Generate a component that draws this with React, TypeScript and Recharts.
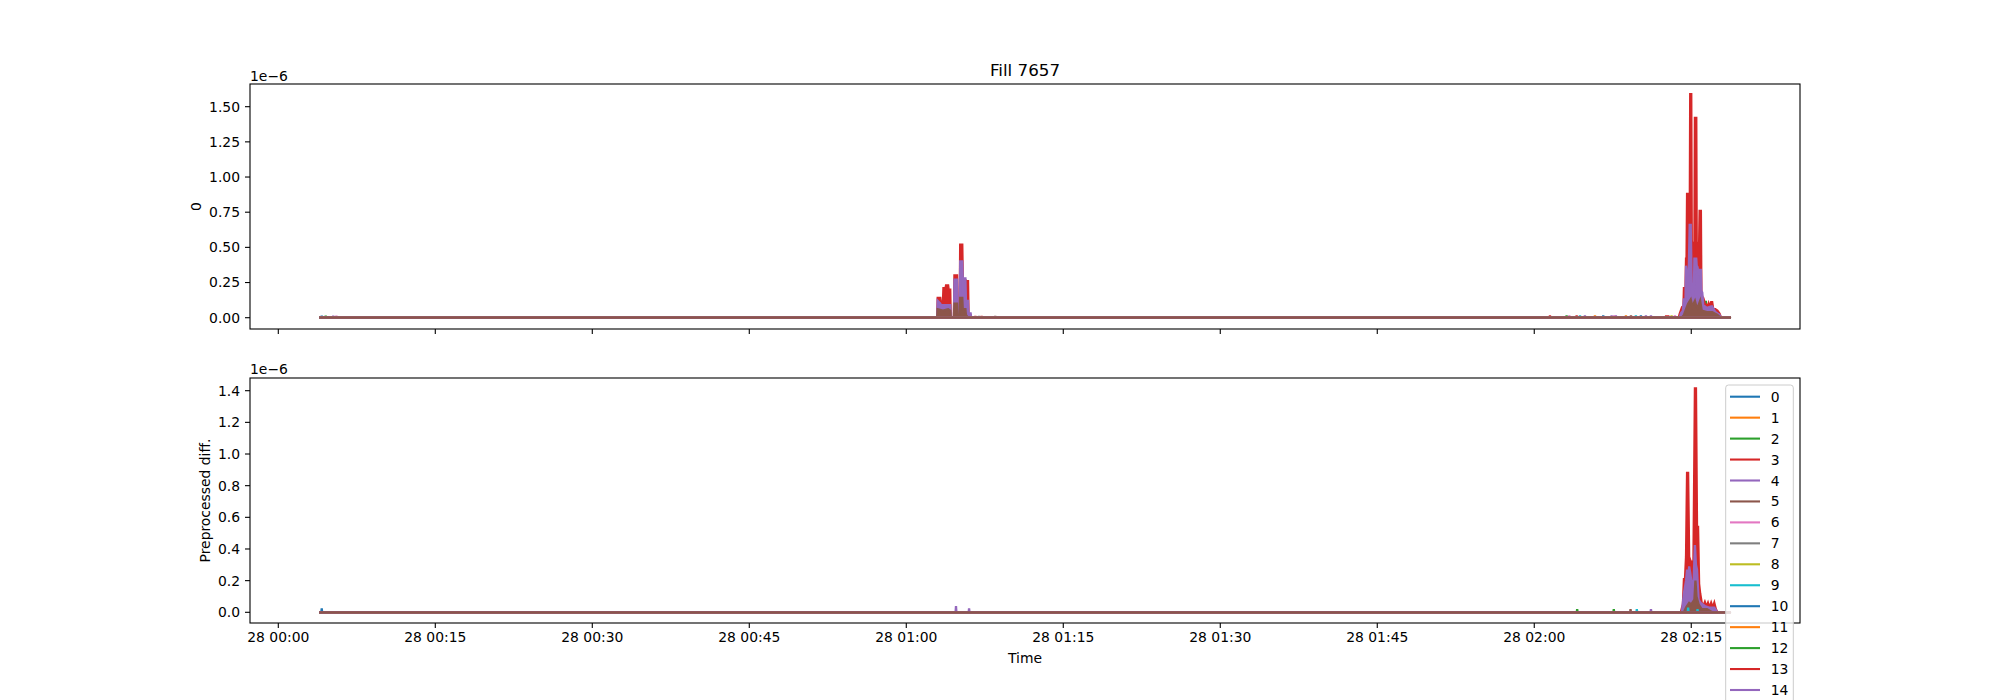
import { ComposedChart, Area, XAxis, YAxis } from "recharts";

// matplotlib tab10 cycle
const tab10 = [
  "#1f77b4", "#ff7f0e", "#2ca02c", "#d62728", "#9467bd",
  "#8c564b", "#e377c2", "#7f7f7f", "#bcbd22", "#17becf",
];
const seriesNames = ["0", "1", "2", "3", "4", "5", "6", "7", "8", "9", "10", "11", "12", "13", "14", "15"];
// the legend runs off the bottom of the figure; only these rows are visible
const legendVisibleRows = 15;

// time axis in minutes after 28 00:00
const xTicks = [0, 15, 30, 45, 60, 75, 90, 105, 120, 135];
const xTickLabels = [
  "28 00:00", "28 00:15", "28 00:30", "28 00:45", "28 01:00",
  "28 01:15", "28 01:30", "28 01:45", "28 02:00", "28 02:15",
];
const xDomain: [number, number] = [-2.704, 145.39];
const runStart = 3.92;
const runEnd = 138.8;

const topYTicks = [0, 0.25, 0.5, 0.75, 1.0, 1.25, 1.5];
const bottomYTicks = [0, 0.2, 0.4, 0.6, 0.8, 1.0, 1.2, 1.4];

// ---- top panel (values in 1e-6) ----
const topRedT = [
  62.95, 63.0, 63.25, 63.3, 63.5, 63.55, 63.75, 63.8, 64.0, 64.05, 64.2, 64.25, 64.55, 64.6, 64.85, 64.9,
  65.1, 65.15, 65.35, 65.4, 65.65, 65.7, 65.9, 65.95, 66.15, 66.2,
  133.8, 133.9, 134.1, 134.25, 134.3, 134.45, 134.5, 134.55, 134.6, 134.7, 134.75, 134.85, 134.9, 135.0,
  135.05, 135.15, 135.25, 135.3, 135.35, 135.48, 135.52, 135.75, 135.8, 135.92, 135.97, 136.05, 136.15,
  136.3, 136.45, 136.55, 136.65, 136.75, 136.9, 137.0, 137.1, 137.3, 137.5, 137.7, 137.85,
];
const topRedV = [
  0, 0.14, 0.14, 0.11, 0.11, 0.21, 0.21, 0.23, 0.23, 0.2, 0.2, 0, 0, 0.3, 0.3, 0,
  0, 0.52, 0.52, 0.28, 0.27, 0.26, 0.26, 0.03, 0.02, 0,
  0, 0.03, 0.07, 0.06, 0.21, 0.21, 0.42, 0.42, 0.88, 0.88, 0.5, 0.6, 1.59, 1.59,
  0.55, 0.5, 0.45, 0.5, 1.42, 1.42, 0.54, 0.52, 0.76, 0.76, 0.17, 0.15, 0.14,
  0.1, 0.09, 0.08, 0.1, 0.07, 0.11, 0.11, 0.06, 0.06, 0.05, 0.03, 0,
];
const topPurpleT = [
  62.95, 63.0, 63.25, 63.3, 64.2, 64.25, 64.55, 64.6, 64.85, 64.9, 65.1, 65.15, 65.35, 65.4, 65.65, 65.7,
  65.9, 65.95, 66.15, 66.2,
  133.9, 134.0, 134.2, 134.3, 134.45, 134.5, 134.6, 134.75, 134.85, 134.95, 135.05, 135.15, 135.25, 135.3,
  135.48, 135.52, 135.6, 135.7, 135.8, 135.92, 135.97, 136.05, 136.15, 136.5, 136.9, 137.0, 137.3, 137.7, 137.85,
];
const topPurpleV = [
  0, 0.12, 0.1, 0.09, 0.09, 0, 0, 0.27, 0.27, 0, 0, 0.4, 0.4, 0.28, 0.28, 0.12,
  0.12, 0.03, 0.03, 0,
  0, 0.03, 0.05, 0.13, 0.13, 0.37, 0.3, 0.3, 0.66, 0.66, 0.2, 0.13, 0.2, 0.42,
  0.42, 0.37, 0.36, 0.3, 0.34, 0.34, 0.19, 0.18, 0.09, 0.07, 0.08, 0.08, 0.04, 0.02, 0,
];
const topBrownT = [
  62.95, 63.0, 63.5, 64.0, 64.2, 64.25, 64.55, 64.6, 64.85, 64.9, 65.1, 65.15, 65.35, 65.4, 65.65, 65.7, 65.9,
  134.1, 134.3, 134.5, 134.7, 134.95, 135.1, 135.35, 135.45, 135.6, 135.85, 136.0, 136.5, 137.0, 137.5, 137.8,
];
const topBrownV = [
  0, 0.06, 0.05, 0.06, 0.05, 0, 0, 0.1, 0.1, 0, 0, 0.14, 0.14, 0.06, 0.06, 0.02, 0,
  0, 0.02, 0.06, 0.1, 0.13, 0.08, 0.12, 0.09, 0.07, 0.12, 0.05, 0.04, 0.04, 0.02, 0,
];
// small isolated blips: series index, time, value
const topDotSeries = [0, 2, 4, 6, 3, 7, 3, 5, 3, 2, 6, 3, 9, 4, 1, 0, 4, 6, 4, 1, 5, 9, 0, 4, 4, 3, 3, 8, 6, 2];
const topDotT = [
  4.15, 4.53, 5.25, 5.55, 66.6, 66.95, 67.2, 68.5, 121.5, 123.09, 123.35, 124.05, 124.37, 124.84, 125.8,
  126.59, 127.39, 127.64, 127.8, 128.76, 129.24, 129.71, 130.19, 130.67, 131.15, 132.6, 132.8, 133.12, 133.44, 136.4,
];
const topDotV = [
  0.014, 0.014, 0.014, 0.014, 0.012, 0.012, 0.012, 0.012, 0.015, 0.015, 0.015, 0.015, 0.015, 0.015, 0.015,
  0.015, 0.015, 0.015, 0.015, 0.015, 0.015, 0.015, 0.015, 0.015, 0.015, 0.015, 0.015, 0.015, 0.015, 0.12,
];

// ---- bottom panel (values in 1e-6) ----
const botRedT = [
  134.0, 134.2, 134.3, 134.4, 134.5, 134.6, 134.7, 134.8, 134.95, 135.05, 135.2, 135.35, 135.45, 135.55,
  135.65, 135.75, 135.85, 136.0, 136.15, 136.3, 136.45, 136.6, 136.75, 136.9, 137.05, 137.2, 137.35, 137.5,
];
const botRedV = [
  0, 0.05, 0.21, 0.21, 0.35, 0.88, 0.88, 0.35, 0.32, 0.32, 0.25, 1.415, 1.415, 0.54,
  0.54, 0.18, 0.12, 0.06, 0.04, 0.065, 0.035, 0.06, 0.03, 0.06, 0.03, 0.06, 0.02, 0,
];
const botPurpleT = [
  134.1, 134.3, 134.5, 134.6, 134.7, 134.8, 134.9, 135.0, 135.2, 135.35, 135.45, 135.55, 135.7, 135.9,
  136.3, 136.7, 137.2, 137.5,
];
const botPurpleV = [
  0, 0.12, 0.2, 0.27, 0.2, 0.29, 0.25, 0.2, 0.15, 0.425, 0.3, 0.27, 0.08, 0.06,
  0.04, 0.03, 0.03, 0,
];
const botBrownT = [134.3, 134.5, 134.8, 135.0, 135.3, 135.4, 135.5, 135.7, 136.0, 136.5, 137.0];
const botBrownV = [0, 0.03, 0.06, 0.05, 0.08, 0.2, 0.1, 0.05, 0.02, 0.02, 0];
const botDotSeries = [0, 4, 4, 2, 2, 5, 9, 4, 9, 1, 9, 1];
const botDotT = [4.15, 64.75, 66.0, 124.1, 127.6, 129.2, 129.8, 131.15, 134.7, 135.1, 135.6, 135.8];
const botDotV = [0.025, 0.04, 0.025, 0.02, 0.02, 0.02, 0.02, 0.02, 0.03, 0.03, 0.02, 0.02];

type Pt = { t: number; v: number };
type Run = { s: number; t: number[]; v: number[] };

function buildSeries(runs: Run[], dotS: number[], dotT: number[], dotV: number[]): Pt[][] {
  return seriesNames.map((_, i) => {
    const pts: Pt[] = [];
    runs.filter((r) => r.s === i).forEach((r) => r.t.forEach((t, k) => pts.push({ t, v: r.v[k] })));
    dotS.forEach((s, k) => {
      if (s === i) {
        pts.push({ t: dotT[k] - 0.04, v: 0 }, { t: dotT[k], v: dotV[k] }, { t: dotT[k] + 0.04, v: 0 });
      }
    });
    pts.sort((a, b) => a.t - b.t);
    return [{ t: runStart, v: 0 }, ...pts, { t: runEnd, v: 0 }];
  });
}

const topSeries = buildSeries(
  [
    { s: 3, t: topRedT, v: topRedV },
    { s: 4, t: topPurpleT, v: topPurpleV },
    { s: 5, t: topBrownT, v: topBrownV },
  ],
  topDotSeries, topDotT, topDotV
);
const bottomSeries = buildSeries(
  [
    { s: 3, t: botRedT, v: botRedV },
    { s: 4, t: botPurpleT, v: botPurpleV },
    { s: 5, t: botBrownT, v: botBrownV },
  ],
  botDotSeries, botDotT, botDotV
);

const FONT = "DejaVu Sans";
const tickStyle = { fill: "#000", fontSize: 13.9, fontFamily: FONT };
const tickLineStyle = { stroke: "#000", strokeWidth: 1.1 };

function Panel({
  series, yDomain, yTicks, yFmt, xLabels, margin, xHeight,
}: {
  series: Pt[][];
  yDomain: [number, number];
  yTicks: number[];
  yFmt: (v: number) => string;
  xLabels: boolean;
  margin: { top: number; right: number; bottom: number; left: number };
  xHeight: number;
}) {
  return (
    <ComposedChart width={2000} height={350} margin={margin}>
      <XAxis
        type="number"
        dataKey="t"
        domain={xDomain}
        allowDataOverflow
        ticks={xTicks}
        interval={0}
        tickFormatter={(v: number) => (xLabels ? xTickLabels[xTicks.indexOf(v)] ?? "" : "")}
        height={xHeight}
        tickSize={5}
        tickMargin={4}
        axisLine={false}
        tickLine={tickLineStyle}
        tick={tickStyle}
      />
      <YAxis
        type="number"
        domain={yDomain}
        allowDataOverflow
        ticks={yTicks}
        interval={0}
        tickFormatter={yFmt}
        width={60}
        tickSize={5}
        tickMargin={5}
        axisLine={false}
        tickLine={tickLineStyle}
        tick={tickStyle}
      />
      {series.map((d, i) => (
        <Area
          key={i}
          data={d}
          dataKey="v"
          name={seriesNames[i]}
          type="linear"
          stroke={tab10[i % 10]}
          fill={tab10[i % 10]}
          fillOpacity={1}
          strokeWidth={2.3}
          dot={false}
          activeDot={false}
          isAnimationActive={false}
        />
      ))}
    </ComposedChart>
  );
}

export default function App() {
  const legendTop = 385;
  const rowH = 20.95;
  return (
    <div
      style={{
        position: "absolute", left: 0, top: 0, width: 2000, height: 700,
        overflow: "hidden", background: "#fff", fontFamily: FONT,
      }}
    >
      <div style={{ position: "absolute", left: 0, top: 0 }}>
        <Panel
          series={topSeries}
          yDomain={[-0.0803, 1.6613]}
          yTicks={topYTicks}
          yFmt={(v) => v.toFixed(2)}
          xLabels={false}
          margin={{ top: 84, right: 200, bottom: 1, left: 190 }}
          xHeight={20}
        />
      </div>
      <div style={{ position: "absolute", left: 0, top: 350 }}>
        <Panel
          series={bottomSeries}
          yDomain={[-0.0676, 1.4802]}
          yTicks={bottomYTicks}
          yFmt={(v) => v.toFixed(1)}
          xLabels={true}
          margin={{ top: 28, right: 200, bottom: 47, left: 190 }}
          xHeight={30}
        />
      </div>
      <svg
        width={2000}
        height={700}
        style={{ position: "absolute", left: 0, top: 0, pointerEvents: "none" }}
        fontFamily={FONT}
      >
        {/* axes frames */}
        <rect x={250} y={84} width={1550} height={245} fill="none" stroke="#000" strokeWidth={1.1} />
        <rect x={250} y={378} width={1550} height={245} fill="none" stroke="#000" strokeWidth={1.1} />

        <text x={1025} y={76} textAnchor="middle" fontSize={16.7} fill="#000">Fill 7657</text>
        <text x={250} y={80.5} fontSize={13.9} fill="#000">1e−6</text>
        <text x={250} y={374} fontSize={13.9} fill="#000">1e−6</text>
        <text x={1025} y={663} textAnchor="middle" fontSize={13.9} fill="#000">Time</text>
        <text
          x={196} y={206.5} textAnchor="middle" dominantBaseline="central" fontSize={13.9} fill="#000"
          transform="rotate(-90 196 206.5)"
        >
          0
        </text>
        <text
          x={205} y={500.5} textAnchor="middle" dominantBaseline="central" fontSize={13.9} fill="#000"
          transform="rotate(-90 205 500.5)"
        >
          Preprocessed diff.
        </text>

        {/* legend box continues past the bottom edge of the figure */}
        <rect
          x={1725.7} y={legendTop} width={67.6} height={360} rx={2.8}
          fill="#fff" fillOpacity={0.8} stroke="#cccccc" strokeWidth={1}
        />
        {seriesNames.slice(0, legendVisibleRows).map((n, i) => {
          const y = legendTop + 11.7 + i * rowH;
          return (
            <g key={n}>
              <line x1={1730} x2={1760} y1={y} y2={y} stroke={tab10[i % 10]} strokeWidth={2.1} />
              <text x={1770.7} y={y} dominantBaseline="central" fontSize={13.9} fill="#000">{n}</text>
            </g>
          );
        })}
      </svg>
    </div>
  );
}
